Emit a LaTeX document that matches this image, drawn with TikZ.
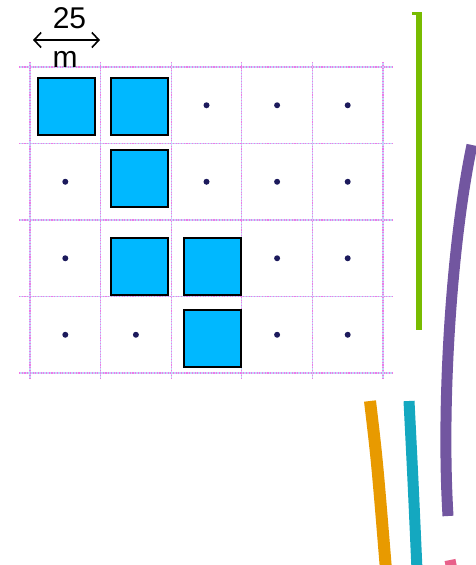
\documentclass[tikz,border=0pt]{standalone}
\usepackage{fontspec}
\setmainfont{Liberation Sans}
\usetikzlibrary{arrows.meta}
\definecolor{gridpink}{HTML}{F078E8}
\definecolor{gridblue}{HTML}{C4D6F8}
\definecolor{plotblue}{HTML}{00B8FF}
\definecolor{dotnavy}{HTML}{1C1A5C}
\definecolor{lime}{HTML}{78BC00}
\definecolor{plum}{HTML}{7256A0}
\definecolor{amber}{HTML}{E89A00}
\definecolor{tealln}{HTML}{14A8C0}
\definecolor{rose}{HTML}{E8608A}
\tikzset{
  gridln/.style={draw=gridblue, line width=1.1pt},
  gridpk/.style={draw=gridpink, line width=1.1pt, dash pattern=on 1.1pt off 1.6pt},
  plotsq/.style={draw=black, fill=plotblue, line width=2pt, minimum size=57pt, inner sep=0pt},
  stake/.style={circle, fill=dotnavy, minimum size=6pt, inner sep=0pt},
  scalebar/.style={{Straight Barb[length=7pt,width=15pt]}-{Straight Barb[length=7pt,width=15pt]}, line width=1.6pt},
  lbl/.style={font=\fontsize{30}{30}\selectfont, inner sep=0pt},
  strand/.style={line width=#1}
}
\begin{document}
\begin{tikzpicture}[x=1pt,y=-1pt]
  \useasboundingbox (0,0) rectangle (476,565);

  % grid of plots
  \foreach \i in {0,...,5} {
    \draw[gridln] ({30+70.6*\i},62) -- ({30+70.6*\i},378);
    \draw[gridpk] ({30+70.6*\i},62) -- ({30+70.6*\i},378);
  }
  \foreach \j in {0,...,4} {
    \draw[gridln] (19,{67+76.5*\j}) -- (393,{67+76.5*\j});
    \draw[gridpk] (19,{67+76.5*\j}) -- (393,{67+76.5*\j});
  }

  % occupied plots
  \foreach \n/\x/\y in {a/66.5/106.5, b/139/106.5, c/139/178.5, d/139/266, e/212/266, f/212/338} {
    \node[plotsq] (sq-\n) at (\x,\y) {};
  }

  % empty plots
  \foreach \c/\r in {2/0,3/0,4/0,0/1,2/1,3/1,4/1,0/2,3/2,4/2,0/3,1/3,3/3,4/3} {
    \node[stake] (dot-\c-\r) at ({65.3+70.6*\c},{105.25+76.5*\r}) {};
  }

  % scale
  \coordinate (sbl) at (33,40);
  \coordinate (sbr) at (100,40);
  \draw[scalebar] (sbl) -- (sbr);
  \node[lbl] (dist) at (69.5,18) {25};
  \node[lbl] (unit) at (65,59) {m};

  % strands at the right
  \draw[lime, strand=6pt] (419,12) -- (419,330);
  \draw[lime, strand=3pt] (412,13.5) -- (419,13.5);
  \draw[plum, strand=11pt] (472,145) .. controls (452,240) and (441,400) .. (448,516);
  \draw[amber, strand=12pt] (370,401) .. controls (377,460) .. (386,570);
  \draw[tealln, strand=11pt] (409,401) .. controls (413,480) .. (417,570);
  \draw[rose, strand=11pt] (450,560) -- (452,570);
\end{tikzpicture}
\end{document}
